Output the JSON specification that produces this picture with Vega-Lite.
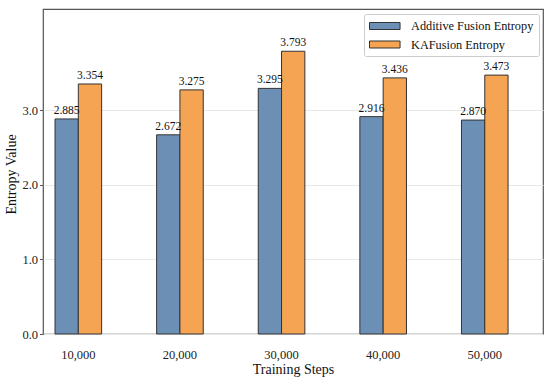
{
  "$schema": "https://vega.github.io/schema/vega-lite/v6.json",
  "width": 500,
  "height": 325,
  "autosize": "none",
  "padding": {"left": 43, "top": 9, "right": 7, "bottom": 52},
  "background": "white",
  "config": {
    "font": "Liberation Serif",
    "text": {"font": "Liberation Serif"},
    "view": {"stroke": "#555555", "strokeWidth": 1.2},
    "axis": {"labelFont": "Liberation Serif", "titleFont": "Liberation Serif", "labelColor": "#222222", "titleColor": "#111111", "titleFontWeight": "normal"},
    "legend": {"labelFont": "Liberation Serif"}
  },
  "data": {
    "values": [
      {"step": "10,000", "series": "Additive Fusion Entropy", "value": 2.885},
      {"step": "10,000", "series": "KAFusion Entropy", "value": 3.354},
      {"step": "20,000", "series": "Additive Fusion Entropy", "value": 2.672},
      {"step": "20,000", "series": "KAFusion Entropy", "value": 3.275},
      {"step": "30,000", "series": "Additive Fusion Entropy", "value": 3.295},
      {"step": "30,000", "series": "KAFusion Entropy", "value": 3.793},
      {"step": "40,000", "series": "Additive Fusion Entropy", "value": 2.916},
      {"step": "40,000", "series": "KAFusion Entropy", "value": 3.436},
      {"step": "50,000", "series": "Additive Fusion Entropy", "value": 2.870},
      {"step": "50,000", "series": "KAFusion Entropy", "value": 3.473}
    ]
  },
  "encoding": {
    "x": {
      "field": "step", "type": "nominal", "sort": null,
      "scale": {"paddingInner": 0.5413, "paddingOuter": 0.231, "align": 0.256},
      "axis": {
        "title": "Training Steps", "titleFontSize": 14, "titleX": 250, "titleY": 35, "titleBaseline": "middle",
        "labelAngle": 0, "labelFontSize": 12.5, "labelPadding": 14, "ticks": false, "domain": false,
        "bandPosition": 0.75, "grid": false
      }
    },
    "xOffset": {
      "field": "series", "type": "nominal",
      "scale": {"domain": ["Additive Fusion Entropy", "KAFusion Entropy"], "paddingInner": 0, "paddingOuter": 0}
    },
    "y": {
      "field": "value", "type": "quantitative",
      "scale": {"domain": [0, 4.36], "nice": false},
      "axis": {
        "title": "Entropy Value", "titleFontSize": 14, "titleX": -32, "titleY": 165, "titleBaseline": "middle", "titleAngle": -90,
        "values": [0, 1, 2, 3], "format": ".1f", "labelFontSize": 12.5, "labelPadding": 2,
        "tickSize": 3.5, "tickColor": "#555555", "domain": false,
        "grid": true, "gridColor": "#e8e8e8", "gridWidth": 1
      }
    }
  },
  "layer": [
    {
      "mark": {"type": "bar", "stroke": "#333333", "strokeWidth": 1},
      "encoding": {
        "color": {
          "field": "series", "type": "nominal",
          "scale": {"domain": ["Additive Fusion Entropy", "KAFusion Entropy"], "range": ["#6c8fb6", "#f4a452"]},
          "legend": {
            "title": null, "orient": "none", "legendX": 321, "legendY": 5,
            "symbolType": "M-1,-0.54H3.7V0.54H-1Z", "symbolSize": 169, "symbolStrokeColor": "#333333", "symbolStrokeWidth": 1,
            "symbolOpacity": 1,
            "labelFontSize": 12.3, "labelColor": "#111111", "labelOffset": 28, "rowPadding": 4.5,
            "padding": 5, "strokeColor": "#cccccc", "fillColor": "white", "cornerRadius": 2
          }
        }
      }
    },
    {
      "mark": {"type": "text", "baseline": "bottom", "dy": -3, "fontSize": 11.5, "color": "#111111", "font": "Liberation Serif"},
      "encoding": {
        "text": {"field": "value", "type": "quantitative", "format": ".3f"}
      }
    }
  ]
}
